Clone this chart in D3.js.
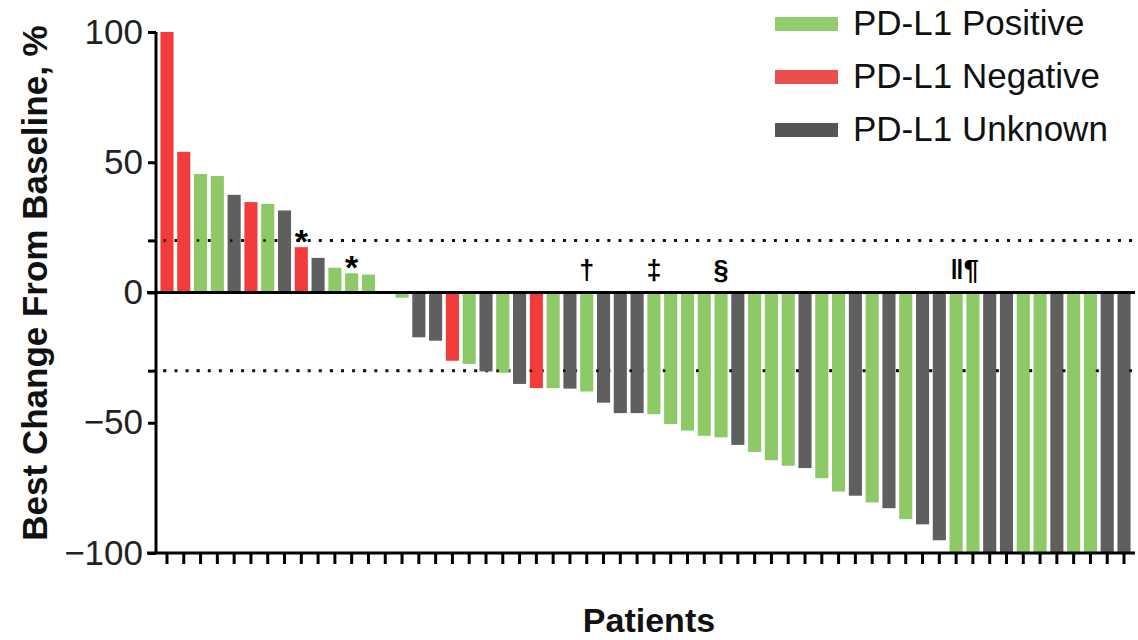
<!DOCTYPE html>
<html>
<head>
<meta charset="utf-8">
<script src="https://cdn.jsdelivr.net/npm/d3@7"></script>
<style>
  body { margin: 0; background: #fff; }
  svg { font-family: "Liberation Sans", Arial, sans-serif; }
</style>
</head>
<body>
<svg id="chart"></svg>
<script>
// Best change from baseline per patient, sorted as in the figure
const values = [100, 54, 45.5, 44.7, 37.5, 34.7, 34, 31.5, 17.4, 13.3, 9.5, 7.4, 6.9, 0, -2,
  -17.2, -18.5, -26.2, -27.4, -30.3, -30.8, -35.1, -36.7, -36.7, -36.9, -38, -42.3, -46.3, -46.3,
  -46.7, -50.5, -53, -55, -55.6, -58.5, -61.2, -64.4, -66.5, -67.4, -71.3, -76.4, -78, -80.6,
  -82.8, -87, -89, -95.1, -100, -100, -100, -100, -100, -100, -100, -100, -100, -100, -100];

// P = PD-L1 positive, N = negative, U = unknown
const status = ["N", "N", "P", "P", "U", "N", "P", "U", "N", "U", "P", "P", "P", "P", "P",
  "U", "U", "N", "P", "U", "P", "U", "N", "P", "U", "P", "U", "U", "U",
  "P", "P", "P", "P", "P", "U", "P", "P", "P", "U", "P", "P", "U", "P",
  "U", "P", "U", "U", "P", "P", "U", "U", "P", "P", "U", "P", "P", "U", "U"];

const legendLabels = ["PD-L1 Positive", "PD-L1 Negative", "PD-L1 Unknown"];
const legendKeys = ["P", "N", "U"];

const yTicks = [100, 50, 20, 0, -30, -50, -100];
const yLabelled = [100, 50, 0, -50, -100];
const refLines = [20, -30];

// annotations: patient index (0-based) and footnote symbol
const notes = [
  { i: 8, s: "*" }, { i: 11, s: "*" },
  { i: 25, s: "\u2020" }, { i: 29, s: "\u2021" }, { i: 33, s: "\u00a7" }, { i: 47.5, s: "\u2016\u00b6" }
];

const colors = { P: "#8dc966", N: "#f23b3b", U: "#5f5f5f" };
const legendColors = { P: "#93cd6e", N: "#ec4d4d", U: "#555555" };

const width = 1138, height = 640;
const svg = d3.select("#chart").attr("width", width).attr("height", height);

const axisX = 156;
const x = d3.scaleBand()
  .domain(values.map((d, i) => i))
  .range([158, 1133])
  .paddingInner(0.22)
  .paddingOuter(0.145);

const y = d3.scaleLinear().domain([-100, 100]).range([553, 32]);

// reference lines, dense dots behind the bars
const refG = svg.append("g");
refLines.forEach(v => {
  refG.append("line")
    .attr("x1", 163.4).attr("x2", 1136)
    .attr("y1", y(v)).attr("y2", y(v))
    .attr("stroke", "#111").attr("stroke-width", 3)
    .attr("stroke-dasharray", "3 8.1");
});

// bars
svg.append("g").selectAll("rect")
  .data(values)
  .join("rect")
  .attr("x", (d, i) => x(i))
  .attr("width", x.bandwidth())
  .attr("y", d => y(Math.max(0, d)))
  .attr("height", d => Math.abs(y(d) - y(0)))
  .attr("fill", (d, i) => colors[status[i]]);

// sparse dots visible on top of the bars
refLines.forEach(v => {
  svg.append("line")
    .attr("x1", 163.4).attr("x2", 1136)
    .attr("y1", y(v)).attr("y2", y(v))
    .attr("stroke", "#111").attr("stroke-width", 2.5)
    .attr("stroke-dasharray", "2.5 30.8");
});

// zero line
svg.append("line")
  .attr("x1", 147).attr("x2", 1135)
  .attr("y1", y(0)).attr("y2", y(0))
  .attr("stroke", "#000").attr("stroke-width", 3);

// y axis
const yAxis = d3.axisLeft(y)
  .tickValues(yTicks)
  .tickSize(8)
  .tickPadding(5)
  .tickFormat(d => yLabelled.includes(d) ? d3.format("")(d) : "");

const yg = svg.append("g")
  .attr("transform", `translate(${axisX},0)`)
  .call(yAxis);
yg.select(".domain").attr("stroke", "#000").attr("stroke-width", 3).attr("d", `M0,${y(100)}V${y(-100)}`);
yg.selectAll(".tick line").attr("stroke", "#000").attr("stroke-width", 3);
yg.selectAll(".tick text")
  .attr("font-size", 35)
  .attr("fill", "#222")
  .attr("font-family", "Liberation Sans, Arial, sans-serif");

// x axis
const xAxis = d3.axisBottom(x).tickSize(11).tickFormat("");
const xg = svg.append("g")
  .attr("transform", `translate(0,${y(-100)})`)
  .call(xAxis);
xg.select(".domain").attr("d", `M147,0H1135`).attr("stroke", "#000").attr("stroke-width", 3);
xg.selectAll(".tick line").attr("stroke", "#000").attr("stroke-width", 3);

// footnote symbols
svg.append("g").selectAll("text")
  .data(notes)
  .join("text")
  .attr("x", d => x(Math.floor(d.i)) + x.bandwidth() / 2 + (d.i % 1 ? x.step() / 2 : 0))
  .attr("y", d => {
    const v = values[Math.floor(d.i)];
    return v > 0 ? y(v) + 6 : y(0) - 14;
  })
  .attr("text-anchor", "middle")
  .attr("font-weight", "bold")
  .attr("font-size", d => d.s === "*" ? 34 : 27)
  .attr("fill", "#000")
  .text(d => d.s);

// axis titles
svg.append("text")
  .attr("transform", `translate(47,283) rotate(-90)`)
  .attr("text-anchor", "middle")
  .attr("font-weight", "bold")
  .attr("font-size", 35)
  .attr("fill", "#111")
  .text("Best Change From Baseline, %");

svg.append("text")
  .attr("x", 649).attr("y", 632)
  .attr("text-anchor", "middle")
  .attr("font-weight", "bold")
  .attr("font-size", 34)
  .attr("fill", "#111")
  .text("Patients");

// legend
const legend = svg.append("g").selectAll("g")
  .data(legendKeys)
  .join("g")
  .attr("transform", (d, i) => `translate(775,${17 + i * 53})`);
legend.append("rect")
  .attr("width", 63).attr("height", 14)
  .attr("fill", d => legendColors[d]);
legend.append("text")
  .attr("x", 78).attr("y", 18)
  .attr("font-size", 35)
  .attr("fill", "#111")
  .text((d, i) => legendLabels[i]);
</script>
</body>
</html>
